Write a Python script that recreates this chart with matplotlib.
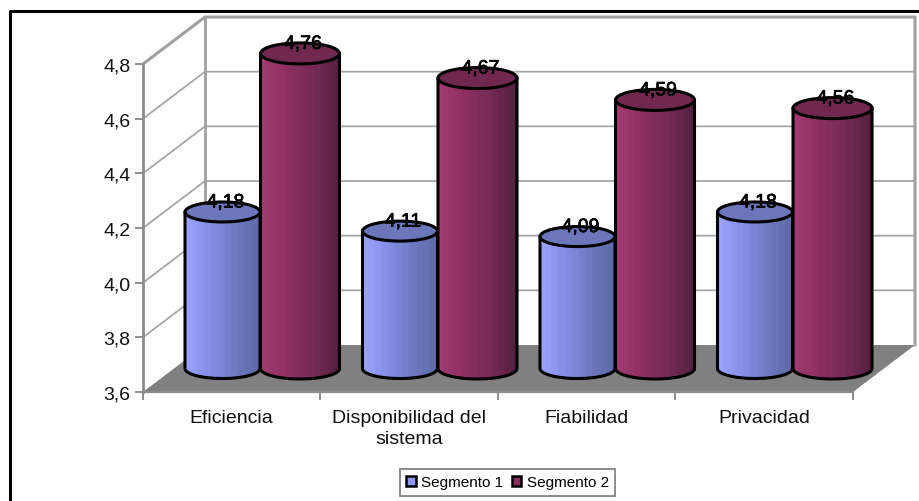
import numpy as np
import matplotlib
matplotlib.use("Agg")
import matplotlib.pyplot as plt
import matplotlib.patheffects as pe
from matplotlib.collections import PolyCollection
from matplotlib.colors import LinearSegmentedColormap
from matplotlib.lines import Line2D
from matplotlib.patches import Ellipse, Patch, Polygon

plt.rcParams["font.family"] = ["Liberation Sans", "DejaVu Sans"]

categories = ["Eficiencia", "Disponibilidad del\nsistema", "Fiabilidad", "Privacidad"]
segmento_1 = [4.18, 4.11, 4.09, 4.18]
segmento_2 = [4.76, 4.67, 4.59, 4.56]
y_ticks = [3.6, 3.8, 4.0, 4.2, 4.4, 4.6, 4.8]
series_names = ["Segmento 1", "Segmento 2"]

W, H = 920, 502
fig = plt.figure(figsize=(W / 100, H / 100), dpi=100, facecolor="white")
ax = fig.add_axes([143 / W, 1 - 393 / H, 710 / W, 328 / H])
ax.set_xlim(0, 4)
ax.set_ylim(3.6, 4.8)

# Pixel scales of the front plane, used to size the oblique depth and cylinders.
px_x = 4 / 710
px_y = 1.2 / 328
depth_x = 62 * px_x
depth_y = 47 * px_y

GRID = "#a6a6a6"
WALL = "#a0a0a0"
off = dict(clip_on=False)

# Floor, side wall and back wall of the oblique box.
ax.add_patch(Polygon([(0, 3.6), (4, 3.6), (4 + depth_x, 3.6 + depth_y), (depth_x, 3.6 + depth_y)],
                     closed=True, fc="#808080", ec="none", zorder=1, **off))
for v in y_ticks[1:-1]:
    ax.plot([0, depth_x, 4 + depth_x], [v, v + depth_y, v + depth_y],
            color=GRID, lw=1.3, zorder=1.5, **off)
ax.plot([0, depth_x, 4 + depth_x, 4 + depth_x],
        [4.8, 4.8 + depth_y, 4.8 + depth_y, 3.6 + depth_y], color=WALL, lw=2.2, zorder=1.6, **off)
ax.plot([depth_x, depth_x], [3.6 + depth_y, 4.8 + depth_y], color=WALL, lw=2.0, zorder=1.6, **off)
ax.plot([0, 0], [3.6, 4.8], color="#8c8c8c", lw=2.0, zorder=1.7, **off)
ax.plot([0, 4], [3.6, 3.6], color="#8c8c8c", lw=1.6, zorder=1.7, **off)

cmap_1 = LinearSegmentedColormap.from_list("s1", ["#9ba3ff", "#858ee6", "#6f79c2", "#5d68a6"])
cmap_2 = LinearSegmentedColormap.from_list("s2", ["#a23c70", "#8c2f5f", "#752a54", "#55203f"])
top_1 = "#6d76bb"
top_2 = "#70284f"


def cylinder(cx_px, value, rx_px, ry_px, cmap, top_colour, z):
    """Draw one shaded cylinder standing mid-depth on the floor."""
    cx = cx_px * px_x
    rx = rx_px * px_x
    ry = ry_px * px_y
    base = 3.6 + 0.5 * depth_y
    top = value + 0.5 * depth_y - 2 * px_y

    t = np.linspace(0, np.pi, 60)
    outline = np.column_stack([
        np.r_[cx - rx * np.cos(t), cx + rx, cx - rx],
        np.r_[base - ry * np.sin(t), top, top],
    ])
    # Opaque backing so nothing behind shows through the strip seams.
    ax.add_patch(Polygon(outline, closed=True, fc=cmap(0.5), ec="none", zorder=z, **off))

    # Vertical strips give the horizontal shading and its fine ribs.
    n = int(2 * rx_px)
    edges = np.linspace(-1, 1, n + 1)
    strips, shades = [], []
    for k in range(n):
        u0, u1 = edges[k], edges[k + 1]
        x0, x1 = cx + rx * u0, cx + rx * u1
        y0 = base - ry * np.sqrt(1 - u0 ** 2)
        y1 = base - ry * np.sqrt(1 - u1 ** 2)
        strips.append([(x0, y0), (x1, y1), (x1, top), (x0, top)])
        rib = 0.05 if k % 7 == 3 else 0.0
        shades.append(np.clip(k / (n - 1) - rib, 0, 1))
    colours = cmap(np.array(shades))
    ax.add_collection(PolyCollection(strips, facecolors=colours, edgecolors=colours, linewidths=0.6,
                                     antialiaseds=False, zorder=z + 0.1, **off), autolim=False)

    ax.add_patch(Polygon(outline, closed=True, fc="none", ec="black", lw=2.2, zorder=z + 0.2,
                         joinstyle="round", **off))
    ax.add_patch(Ellipse((cx, top), 2 * rx, 2 * ry, fc=top_colour, ec="black", lw=2.2,
                         zorder=z + 0.3, **off))
    ax.text(cx + 3 * px_x, top + 9 * px_y, f"{value:.2f}".replace(".", ","), ha="center",
            va="center", fontsize=14, color="black", zorder=z + 0.4,
            path_effects=[pe.withStroke(linewidth=0.5, foreground="black")], **off)


cat_width_px = 710 / 4
for i, (a, b) in enumerate(zip(segmento_1, segmento_2)):
    left = cat_width_px * i
    cylinder(left + 79.5, a, 37.5, 10, cmap_1, top_1, 3 + i)
    cylinder(left + 157, b, 39.5, 10.5, cmap_2, top_2, 3.5 + i)

# Axes ticks and labels.
for s in ax.spines.values():
    s.set_visible(False)
ax.patch.set_visible(False)
ax.set_yticks(y_ticks)
ax.set_yticklabels([f"{v:.1f}".replace(".", ",") for v in y_ticks], fontsize=14, color="#111111")
ax.tick_params(axis="y", length=6, width=1.4, color="#8c8c8c", pad=3)
ax.set_xticks(range(5))
ax.set_xticklabels([])
ax.tick_params(axis="x", length=6, width=1.4, color="#8c8c8c")
ax.set_xticks([i + 0.5 for i in range(4)], minor=True)
ax.set_xticklabels(categories, minor=True, fontsize=14, color="#111111", linespacing=1.3)
ax.tick_params(axis="x", which="minor", length=0, pad=12)

# Outer chart frame: top and left edges only.
fig.add_artist(Line2D([10 / W, 10 / W, 1], [0, 1 - 12 / H, 1 - 12 / H], color="black", lw=2.2))

handles = [Patch(fc="#8f97f5", ec="black", lw=1.8), Patch(fc="#8c2f5f", ec="black", lw=1.8)]
leg = fig.legend(handles, series_names, ncol=2, loc="center",
                 bbox_to_anchor=(507.5 / W, 1 - 483.5 / H), fontsize=11, frameon=True,
                 fancybox=False, framealpha=1, edgecolor="#8c8c8c", borderpad=0.42,
                 handlelength=0.62, handleheight=0.62, handletextpad=0.35, columnspacing=0.55,
                 borderaxespad=0)
leg.get_frame().set_linewidth(1.4)

fig.savefig("out.png", dpi=100, facecolor="white")
